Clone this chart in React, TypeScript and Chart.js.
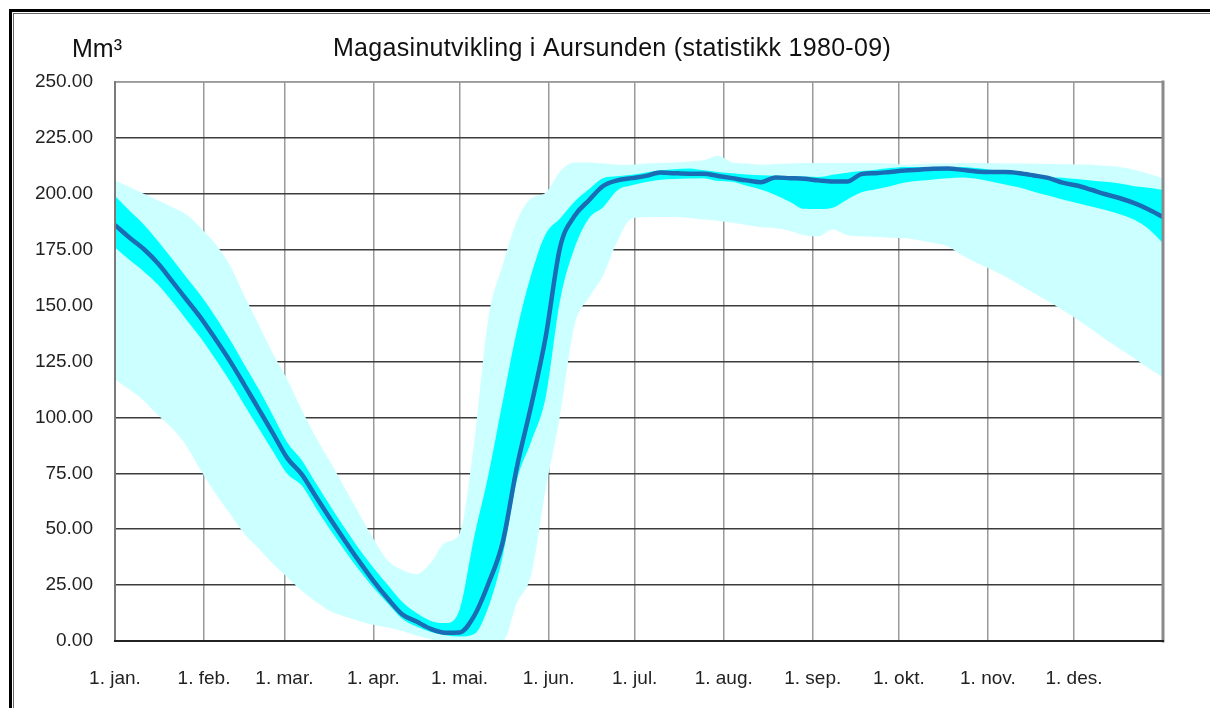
import React, { useEffect, useRef } from "react";
import { Chart, registerables } from "chart.js";

Chart.register(...registerables);

const chartTitle = "Magasinutvikling i Aursunden (statistikk 1980-09)";
const unitLabel = "Mm³";

// day of year for each sample
const days = [
  0, 5, 10, 15, 20, 25, 30, 35, 40, 45, 50, 55, 60, 65, 70, 75, 80, 85, 90, 95,
  100, 105, 110, 115, 120, 125, 130, 135, 140, 145, 150, 155, 160, 165, 170, 175,
  180, 185, 190, 195, 200, 205, 210, 215, 220, 225, 230, 235, 240, 245, 250, 255,
  260, 265, 270, 275, 280, 285, 290, 295, 300, 305, 310, 315, 320, 325, 330, 335,
  340, 345, 350, 355, 360, 365,
];

const medianValues = [
  186, 180.5, 175.3, 168.8, 160.7, 152.5, 144.3, 135, 125.3, 114.7, 103.8, 92.9,
  81.8, 74.6, 64.5, 54.6, 45, 35.7, 26.9, 19, 12, 8.7, 5.4, 3.7, 3.8, 11, 25.5, 44,
  78, 105.5, 136, 176, 190, 197, 203.5, 206, 207, 208, 209.5, 209.2, 209, 209, 208,
  207, 206, 205.2, 207.3, 207, 206.7, 206, 205.5, 205.5, 208.8, 209.2, 209.8,
  210.4, 210.8, 211.2, 211.3, 210.7, 210, 209.7, 209.7, 209.2, 208.2, 207.1, 205,
  203.7, 201.8, 199.8, 198, 195.8, 193, 189.6,
];

const innerUpper = [
  199, 192.5, 186.3, 178.8, 170.7, 162.5, 154.3, 145, 134.8, 123.7, 112.8, 100.9,
  88.8, 81, 70.5, 60.4, 50.5, 41.2, 32.8, 25, 17.5, 12.5, 9, 8, 14, 46, 74, 107,
  139, 164, 182, 189, 196.5, 202, 207, 207.8, 208.5, 209.5, 210.5, 211, 211.3,
  210.5, 209.8, 209.2, 208.6, 208.3, 208.1, 207.9, 207.7, 207.5, 208.5, 209.4,
  210.2, 210.8, 211.5, 212, 212, 212, 212, 212, 211.5, 210.8, 210.1, 209.5, 208.6,
  207.5, 207.2, 206.6, 206, 205.4, 204.6, 203.4, 202.7, 201.7,
];

const innerLower = [
  176, 170.5, 165.3, 159.3, 151.7, 143.5, 135.3, 126, 116.3, 105.7, 95.3, 84.9,
  74.8, 69.6, 59.5, 49.6, 40.5, 31.7, 23.8, 16.8, 10, 6.5, 4, 2.6, 2, 3, 15, 37.7,
  72, 89.3, 109, 152.3, 175.6, 189, 194, 201.6, 203.8, 205.3, 206.3, 206.6, 206.8,
  207, 205.7, 205.4, 203.6, 201.9, 199.5, 196.5, 193.3, 193.2, 193.8, 197.5, 200.7,
  202, 203.4, 205, 205.8, 206.4, 206.9, 207.3, 206.7, 205.5, 204.2, 202.8, 200.9,
  199.2, 197.5, 195.9, 194.3, 192.7, 190.9, 188.4, 184.3, 178,
];

const outerUpper = [
  206, 203, 200, 197, 194, 190.6, 184.5, 177.5, 168, 154.5, 141.5, 128.5, 117,
  103.5, 91, 80, 68.5, 57, 45.7, 36, 31.8, 30, 35, 44, 48, 88, 144, 168, 188, 198,
  200.5, 210, 214, 214, 213.5, 213, 213, 213.5, 213.8, 214, 214.5, 215, 217, 214,
  213.5, 213, 213.3, 213.6, 213.8, 213.8, 213.8, 213.8, 213.8, 213.8, 213.5, 213,
  213.3, 213.5, 213.6, 213.8, 213.8, 213.7, 213.6, 213.5, 213.4, 213.3, 213.2,
  213.1, 213, 212.6, 212, 210.8, 209, 207,
];

const outerLower = [
  117, 112.5, 107.5, 101, 95, 87, 76, 66, 57, 48, 41.5, 34.5, 28.5, 22.5, 17.5,
  13.3, 11, 9, 7.3, 6, 4.5, 2.5, 0.8, 0, 0, 0, 0, 0, 17, 30, 68, 101, 141, 153.5,
  163.5, 179, 189, 189.5, 189.6, 189.6, 189.2, 188.5, 188, 187, 186, 185, 184.6,
  183.5, 181.5, 181, 184, 181.5, 181, 180.7, 180.4, 180.2, 179.2, 178, 176.5,
  172.5, 169.2, 166.3, 163, 159.3, 155.6, 151.9, 148, 144, 139.5, 134.8, 130.6,
  126.5, 122, 118,
];

const monthStarts = [0, 31, 59, 90, 120, 151, 181, 212, 243, 273, 304, 334];
const monthLabels = [
  "1. jan.", "1. feb.", "1. mar.", "1. apr.", "1. mai.", "1. jun.",
  "1. jul.", "1. aug.", "1. sep.", "1. okt.", "1. nov.", "1. des.",
];

const FONT = '"Liberation Sans", Arial, sans-serif';

export default function App() {
  const ref = useRef<HTMLCanvasElement>(null);

  useEffect(() => {
    const canvas = ref.current;
    if (!canvas) return;
    const toXY = (vals: number[]) => days.map((d, i) => ({ x: d, y: vals[i] }));

    const borderPlugin = {
      id: "plotBorder",
      afterDatasetsDraw(chart: any) {
        const { ctx, chartArea: a } = chart;
        ctx.save();
        ctx.lineCap = "square";
        ctx.strokeStyle = "#9a9a9a";
        ctx.lineWidth = 1.5;
        ctx.beginPath();
        ctx.moveTo(a.left, a.top);
        ctx.lineTo(a.right, a.top);
        ctx.stroke();
        ctx.strokeStyle = "#8a8a8a";
        ctx.lineWidth = 3;
        ctx.beginPath();
        ctx.moveTo(a.right, a.top);
        ctx.lineTo(a.right, a.bottom);
        ctx.stroke();
        ctx.strokeStyle = "#7a7a7a";
        ctx.lineWidth = 2;
        ctx.beginPath();
        ctx.moveTo(a.left, a.top);
        ctx.lineTo(a.left, a.bottom);
        ctx.stroke();
        ctx.strokeStyle = "#222";
        ctx.lineWidth = 2;
        ctx.beginPath();
        ctx.moveTo(a.left, a.bottom);
        ctx.lineTo(a.right, a.bottom);
        ctx.stroke();
        ctx.restore();
      },
    };

    const textPlugin = {
      id: "texts",
      afterDraw(chart: any) {
        const ctx = chart.ctx;
        ctx.save();
        ctx.fillStyle = "#111";
        ctx.textBaseline = "alphabetic";
        ctx.font = `25px ${FONT}`;
        ctx.textAlign = "left";
        ctx.fillText(unitLabel, 72, 57);
        ctx.textAlign = "center";
        try {
          (ctx as any).letterSpacing = "0.3px";
        } catch (e) {}
        ctx.fillText(chartTitle, 612, 56);
        ctx.restore();
      },
    };

    const band = (vals: number[], fill: any, color: string, order: number) => ({
      data: toXY(vals),
      fill,
      backgroundColor: color,
      borderColor: "rgba(0,0,0,0)",
      borderWidth: 0,
      pointRadius: 0,
      cubicInterpolationMode: "monotone",
      order,
    });

    const chart = new Chart(canvas, {
      type: "line",
      data: {
        datasets: [
          band(outerUpper, "+1", "#ccffff", 3),
          band(outerLower, false, "#ccffff", 3),
          band(innerUpper, "+1", "#00ffff", 2),
          band(innerLower, false, "#00ffff", 2),
          {
            data: toXY(medianValues),
            fill: false,
            borderColor: "#1a6db5",
            borderWidth: 4.5,
            borderJoinStyle: "round",
            borderCapStyle: "round",
            cubicInterpolationMode: "monotone",
            pointRadius: 0,
            order: 1,
          },
        ],
      } as any,
      options: {
        responsive: false,
        animation: false,
        devicePixelRatio: 1,
        layout: { padding: { left: 15, top: 82, right: 47, bottom: 7 } },
        elements: { point: { radius: 0 } },
        plugins: {
          legend: { display: false },
          tooltip: { enabled: false },
          title: { display: false },
        },
        scales: {
          x: {
            type: "linear",
            min: 0,
            max: 365,
            afterFit: (s: any) => {
              s.height = 60;
            },
            afterBuildTicks: (s: any) => {
              s.ticks = monthStarts.map((v) => ({ value: v }));
            },
            ticks: {
              autoSkip: false,
              maxRotation: 0,
              padding: 26,
              color: "#222",
              font: { family: FONT, size: 19 },
              callback: (_v: any, i: number) => monthLabels[i],
            },
            grid: { color: "#9a9a9a", lineWidth: 1.5, drawTicks: false },
            border: { display: false },
          },
          y: {
            min: 0,
            max: 250,
            afterFit: (s: any) => {
              s.width = 100;
            },
            ticks: {
              stepSize: 25,
              padding: 22,
              color: "#222",
              font: { family: FONT, size: 19 },
              callback: (v: any) => Number(v).toFixed(2),
            },
            grid: {
              color: (c: any) =>
                c.tick && c.tick.value === 250 ? "#9a9a9a" : "#3c3c3c",
              lineWidth: 1.5,
              drawTicks: false,
            },
            border: { display: false },
          },
        },
      } as any,
      plugins: [borderPlugin, textPlugin],
    });
    return () => chart.destroy();
  }, []);

  return (
    <div
      style={{
        position: "fixed",
        left: 0,
        top: 0,
        right: 0,
        bottom: 0,
        overflow: "hidden",
        background: "#fff",
      }}
    >
      <div
        style={{
          position: "absolute",
          left: 9,
          top: 9,
          width: 1400,
          height: 1000,
          border: "3px solid #000",
        }}
      />
      <div
        style={{
          position: "absolute",
          left: 13,
          top: 13,
          width: 1400,
          height: 1000,
          border: "1px solid #666",
        }}
      />
      <canvas
        ref={ref}
        width={1210}
        height={708}
        style={{ position: "absolute", left: 0, top: 0, width: 1210, height: 708 }}
      />
    </div>
  );
}
